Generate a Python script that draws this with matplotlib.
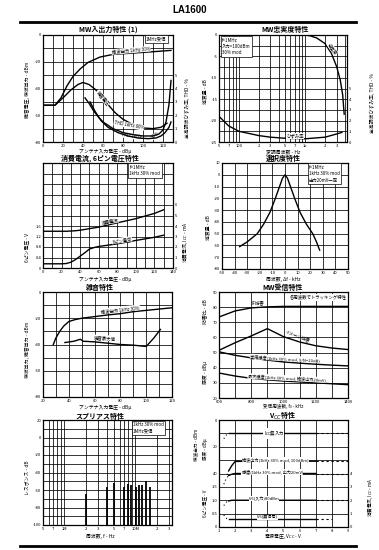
import matplotlib
matplotlib.use("Agg")
import matplotlib.pyplot as plt
from matplotlib.lines import Line2D
from matplotlib.ticker import NullLocator

plt.rcParams['font.family'] = ['Noto Sans CJK JP', 'DejaVu Sans']
plt.rcParams['axes.unicode_minus'] = False

# ---------------- data ----------------
# Panel 1: MW input/output (1)
p1_det_x = [0, 12, 18, 24, 30, 37, 45, 57, 70, 90, 110, 128]
p1_det_y = [-52.5, -52.5, -47, -38, -31, -25.5, -20.5, -16.5, -14.5, -13.5, -12.5, -11.5]
p1_noise_x = [0, 12, 20, 28, 35, 40, 46, 52, 58, 65, 72, 80, 90, 100, 110, 118, 124]
p1_noise_y = [-52.5, -52.5, -47, -41, -37, -35.5, -37, -40.5, -45, -52, -58, -63, -67, -69.5, -70, -69, -66]
p1_thd80_x = [42, 46, 50, 55, 60, 70, 80, 90, 100, 110, 116, 120, 123, 126, 128]
p1_thd80 = [3.3, 2.9, 2.4, 1.9, 1.5, 1.0, 0.7, 0.55, 0.45, 0.45, 0.6, 0.9, 1.5, 2.8, 4.6]
p1_thd30_x = [47, 52, 58, 65, 75, 85, 95, 105, 113, 118, 122, 126, 128]
p1_thd30 = [3.0, 2.3, 1.6, 1.1, 0.7, 0.45, 0.3, 0.25, 0.3, 0.45, 0.7, 1.1, 1.5]

# Panel 2: MW fidelity
p2_fid_f = [1000, 1200, 1500, 2000, 2500, 3000, 3400, 3700, 3900]
p2_fid_db = [0, -0.2, -0.7, -2.0, -4.3, -7.4, -10.5, -14, -18.5]
p2_thd_f = [50, 70, 100, 200, 300, 500, 1000, 2000, 3000, 3600]
p2_thd = [2.4, 1.5, 1.0, 0.6, 0.45, 0.35, 0.3, 0.45, 0.75, 0.9]

# Panel 3: supply current, pin-6 voltage
p3_in = [0, 20, 25, 30, 35, 40, 45, 50, 55, 60, 80, 100, 120, 130]
p3_icc = [3.5, 3.5, 3.5, 3.52, 3.55, 3.6, 3.67, 3.75, 3.82, 3.9, 4.3, 4.7, 5.2, 5.55]
p3_v6 = [0.16, 0.16, 0.17, 0.22, 0.32, 0.45, 0.58, 0.72, 0.78, 0.82, 0.92, 1.05, 1.17, 1.25]

# Panel 4: selectivity
p4_df = [-36, -30, -22, -17, -12, -8, -5, -2, 0, 2, 5, 8, 12, 17, 22, 25, 27.5]
p4_att = [-61, -57, -50, -42, -32, -21, -12, -3, 0, -3, -12, -21, -32, -42, -50, -57, -64]

# Panel 5: noise characteristics
p5_det_x = [28, 30, 33, 36, 40, 45, 50, 60, 70, 80, 90, 100, 110, 120]
p5_det_y = [-40, -35, -30, -26, -22.5, -21, -20, -18.75, -17.5, -16.5, -15, -14, -13, -12]
p5_noise_x = [37, 44, 49, 51, 60, 70, 80, 90, 100, 106, 111]
p5_noise_y = [-38.5, -37.5, -36, -37.5, -38, -39, -40, -40.5, -41.5, -35, -28.5]

# Panel 6: MW reception
p6_freq = [600, 700, 800, 900, 1000, 1100, 1200, 1300, 1400]
p6_if = [73.5, 77.5, 79.5, 80.2, 80.5, 80.5, 80.5, 80.5, 80.5]
p6_image = [51.5, 56.5, 61, 65.8, 60.5, 57, 54.5, 53, 52]
p6_usable = [50.5, 48.2, 46.5, 45, 43.8, 43, 42.3, 41.7, 41.2]
p6_max = [36.5, 34.5, 33, 32, 31.2, 30.6, 30, 29.4, 28.8]

# Panel 7: spurious
p7_freq = [2.0e6, 4.0e6, 5.0e6, 7.0e6, 7.9e6, 8.8e6, 10.3e6, 11.3e6, 12.6e6, 14.4e6, 16.0e6]
p7_level = [-64, -56, -52, -56, -53, -54, -56, -54, -54, -50, -56]

# Panel 8: Vcc characteristics (values in chart grid units)
p8_vcc = [1.3, 1.4, 1.5, 1.6, 1.8, 2.0, 3.0, 4.0, 5.0, 6.0, 7.0, 8.0, 9.0]
p8_icc = [6.6, 6.8, 6.95, 7.0, 7.0, 7.0, 7.0, 7.0, 7.0, 7.0, 7.0, 7.0, 7.0]
p8_det = [None, None, 3.9, 4.2, 4.6, 4.9, 4.92, 4.92, 4.92, 4.92, 4.92, 4.92, 4.92]
p8_sens = [3.2, 3.5, 3.7, 3.85, 3.95, 4.0, 4.0, 4.0, 4.0, 4.0, 4.0, 4.0, 4.0]
p8_v6_80 = [1.6, 1.8, 1.9, 1.95, 2.0, 2.0, 2.0, 2.0, 2.0, 2.0, 2.0, 2.0, 2.0]
p8_v6_0 = [0.9, 0.7, 0.62, 0.6, 0.6, 0.6, 0.6, 0.6, 0.6, 0.6, 0.6, 0.6, None]

# ---------------- figure ----------------
W, H = 379, 550
fig = plt.figure(figsize=(W / 100, H / 100), dpi=100)
fig.patch.set_facecolor('white')

TL = 3.0   # tick label size
CL = 3.2   # curve label size
AL = 3.5   # axis label size
TT = 5.0   # title size


def add_ax(x0, y0, x1, y1):
    return fig.add_axes([x0 / W, 1 - y1 / H, (x1 - x0) / W, (y1 - y0) / H])


def T(x, y, s, size=AL, **kw):
    kw.setdefault('ha', 'center')
    kw.setdefault('va', 'center')
    fig.text(x / W, 1 - y / H, s, fontsize=size, **kw)


def frame(ax, xgrid, xlab, ygrid, ylab, xlim, ylim, logx=False):
    if logx:
        ax.set_xscale('log')
    ax.set_xticks(xgrid)
    ax.set_xticklabels(xlab)
    ax.set_yticks(ygrid)
    ax.set_yticklabels(ylab)
    ax.xaxis.set_minor_locator(NullLocator())
    ax.yaxis.set_minor_locator(NullLocator())
    ax.set_xlim(*xlim)
    ax.set_ylim(*ylim)
    ax.grid(True, color='black', lw=0.55)
    ax.set_axisbelow(True)
    ax.tick_params(length=0, labelsize=TL, pad=1.2)
    for s in ax.spines.values():
        s.set_linewidth(0.9)


def right_axis(ax, ylim, ticks, labels):
    r = ax.twinx()
    r.set_ylim(*ylim)
    r.set_yticks(ticks)
    r.set_yticklabels(labels)
    r.yaxis.set_minor_locator(NullLocator())
    r.tick_params(length=0, labelsize=TL, pad=1.2)
    for s in r.spines.values():
        s.set_visible(False)
    return r


def lab(ax, x, y, s, rot=0, size=CL, bg=True, **kw):
    kw.setdefault('ha', 'center')
    kw.setdefault('va', 'center')
    bb = dict(fc='white', ec='none', pad=0.2) if bg else None
    ax.text(x, y, s, rotation=rot, fontsize=size, bbox=bb, zorder=6, **kw)


def box(ax, x, y, s, size=CL, ha='left'):
    ax.text(x, y, s, fontsize=size, ha=ha, va='top', linespacing=1.35, zorder=6,
            bbox=dict(fc='white', ec='black', lw=0.5, pad=1.0))


LW = 1.0

# page header / footer
T(190, 10, 'LA1600', size=7, fontweight='bold', family=['Liberation Sans', 'DejaVu Sans'])
fig.add_artist(Line2D([20 / W, 356 / W], [1 - 22 / H, 1 - 22 / H], color='black', lw=2.0))
fig.add_artist(Line2D([20 / W, 356 / W], [1 - 546 / H, 1 - 546 / H], color='black', lw=2.0))

# ---------- Panel 1 ----------
ax = add_ax(43, 35, 173, 142)
g = list(range(0, 131, 10))
frame(ax, g, [str(v) if v % 20 == 0 and v <= 120 else '' for v in g],
      list(range(-80, 1, 10)), [str(v) if v % 20 == 0 else '' for v in range(-80, 1, 10)],
      (0, 130), (-80, 0))
ax.plot(p1_det_x, p1_det_y, color='black', lw=LW)
ax.plot(p1_noise_x, p1_noise_y, color='black', lw=LW)
r = right_axis(ax, (0, 8), [0, 1, 2, 3, 4, 5], ['0', '1', '2', '3', '4', '5'])
r.plot(p1_thd80_x, p1_thd80, color='black', lw=LW)
r.plot(p1_thd30_x, p1_thd30, color='black', lw=LW)
lab(ax, 88, -11.5, '検波出力 1kHz 30%', rot=5)
lab(ax, 60, -47, '雑音電圧', rot=-50)
lab(ax, 86, -67.5, 'THD 1kHz 80%', rot=-10)
lab(ax, 88, -75.5, 'THD 1kHz', rot=-8)
lab(ax, 113, -75, '30%', rot=35)
box(ax, 103, -1.2, '1MHz受信')
T(108, 29, 'MW入出力特性 (1)', size=TT, fontweight='bold')
T(27, 90, '雑音電圧, 検波出力 - dBm', rotation=90)
T(187, 108, '全高調波ひずみ率, THD - %', rotation=90)
T(105, 151.5, 'アンテナ入力電圧 - dBμ')

# ---------- Panel 2 ----------
ax = add_ax(219, 35, 347, 142)
g2 = [50, 60, 70, 80, 90, 100, 200, 300, 400, 500, 600, 700, 800, 900, 1000, 2000, 3000, 4000]
g2lab = {50: '5', 70: '7', 100: '100', 200: '2', 300: '3', 500: '5', 700: '7',
         1000: '1k', 2000: '2', 3000: '3'}
frame(ax, g2, [g2lab.get(v, '') for v in g2],
      [-25, -22.5, -20, -17.5, -15, -12.5, -10, -7.5, -5, -2.5, 0],
      ['-25', '', '-20', '', '-15', '', '-10', '', '-5', '', '0'],
      (50, 4300), (-25, 0), logx=True)
ax.plot(p2_fid_f, p2_fid_db, color='black', lw=LW)
r = right_axis(ax, (0, 10), [0, 1, 2, 3, 4, 5], ['0', '1', '2', '3', '4', '5'])
r.plot(p2_thd_f, p2_thd, color='black', lw=LW)
lab(r, 700, 0.55, 'ひずみ率')
lab(ax, 2600, -3.2, '忠実度', rot=-55)
box(ax, 56, -0.6, 'f=1MHz\n入力=100dBm\n30% mod')
T(285, 29, 'MW忠実度特性', size=TT, fontweight='bold')
T(205, 92, '減衰量 - dB', rotation=90)
T(372, 103, '全高調波ひずみ率, THD - %', rotation=90)
T(283, 151.5, '変調周波数 - Hz')

# ---------- Panel 3 ----------
ax = add_ax(43, 163, 173, 268)
g3 = list(range(0, 141, 10))
y3 = [round(0.4 * i, 1) for i in range(11)]
frame(ax, g3, [str(v) if v % 20 == 0 else '' for v in g3],
      y3, ['0', '0.4', '0.8', '1.2', '1.6', '', '', '', '', '', ''],
      (0, 140), (0, 4))
ax.plot(p3_in, p3_v6, color='black', lw=LW)
r = right_axis(ax, (0, 10), [0, 1, 2, 3, 4, 5, 6], ['0', '1', '2', '3', '4', '5', '6'])
r.plot(p3_in, p3_icc, color='black', lw=LW)
lab(r, 72, 4.45, '消費電流', rot=10)
lab(ax, 85, 1.06, '6ピン電圧', rot=8)
box(ax, 93, 3.93, 'f=1MHz\n1kHz 30% mod')
T(100, 158.5, '消費電流, 6ピン電圧特性', size=TT, fontweight='bold')
T(27, 247, '6ピン電圧 - V', rotation=90)
T(186, 242, '消費電流, I$_{CC}$ - mA', rotation=90)
T(105, 279, 'アンテナ入力電圧 - dBμ')

# ---------- Panel 4 ----------
ax = add_ax(222, 163, 348, 269)
g4 = list(range(-50, 51, 10))
y4 = list(range(-80, 11, 10))
frame(ax, g4, [str(v) for v in g4], y4, [str(v) for v in y4], (-50, 50), (-80, 10))
ax.plot(p4_df, p4_att, color='black', lw=LW)
box(ax, 19, 8.5, 'f=1MHz\n1kHz 30% mod\n出力20mV一定')
T(283, 158.5, '選択度特性', size=TT, fontweight='bold')
T(208, 228, '減衰量 - dB', rotation=90)
T(283, 279, '周波数, Δf - kHz')

# ---------- Panel 5 ----------
ax = add_ax(43, 292, 172, 397)
g5 = list(range(20, 121, 10))
y5 = list(range(-80, 1, 10))
frame(ax, g5, [str(v) if v % 20 == 0 else '' for v in g5],
      y5, [str(v) if v % 20 == 0 else '' for v in y5], (20, 120), (-80, 0))
ax.plot(p5_det_x, p5_det_y, color='black', lw=LW)
ax.plot(p5_noise_x, p5_noise_y, color='black', lw=LW)
lab(ax, 80, -13.2, '検波出力 1kHz 30%', rot=6)
lab(ax, 68, -35, '雑音最大値', rot=-3)
T(100, 287, '雑音特性', size=TT, fontweight='bold')
T(27, 350, '検波出力, 雑音出力 - dBm', rotation=90)
T(105, 408, 'アンテナ入力電圧 - dBμ')

# ---------- Panel 6 ----------
ax = add_ax(219, 292, 348, 398)
g6 = list(range(600, 1401, 100))
y6 = list(range(20, 91, 10))
frame(ax, g6, [str(v) if v % 200 == 0 else '' for v in g6],
      y6, [str(v) for v in y6], (600, 1400), (20, 90))
for s in (p6_if, p6_image, p6_usable, p6_max):
    ax.plot(p6_freq, s, color='black', lw=LW)
lab(ax, 840, 83.2, 'IF妨害', bg=False)
lab(ax, 1085, 61, 'イメージ妨害', rot=-22, bg=False)
lab(ax, 1010, 46.2, '実用感度(1kHz 30% mod, S/N=20dB)', rot=-3, size=3.0)
lab(ax, 1020, 33.2, '最大感度(1kHz 30% mod, 検波出力20mV)', rot=-3, size=3.0)
ax.text(1390, 88, '各周波数でトラッキング特性', fontsize=CL, ha='right', va='top', zorder=6,
        bbox=dict(fc='white', ec='none', pad=0.5))
T(283, 287, 'MW受信特性', size=TT, fontweight='bold')
T(205, 312, '妨害比 - dB', rotation=90)
T(205, 372, '感度 - dBμ', rotation=90)
T(283, 406.5, '受信周波数, f₀ - kHz', size=3.3)

# ---------- Panel 7 ----------
ax = add_ax(43, 420, 172, 525)
g7 = [5e5, 6e5, 7e5, 8e5, 9e5, 1e6, 2e6, 3e6, 4e6, 5e6, 6e6, 7e6, 8e6, 9e6, 1e7, 2e7, 3e7]
g7lab = ['5', '', '7', '', '', '1M', '2', '3', '', '5', '', '7', '', '', '10M', '2', '3']
y7 = list(range(-100, 21, 10))
frame(ax, g7, g7lab, y7, [str(v) if v % 20 == 0 else '' for v in y7],
      (5e5, 3.3e7), (-100, 20), logx=True)
ax.vlines(p7_freq, -100, p7_level, color='black', lw=1.3, zorder=4)
box(ax, 9.3e6, 17.5, '1kHz 30% mod\n1MHz受信')
T(100, 416, 'スプリアス特性', size=TT, fontweight='bold')
T(27, 478, 'レスポンス - dB', rotation=90)
T(100, 536, '周波数, f - Hz')

# ---------- Panel 8 ----------
ax = add_ax(219, 420, 348, 527)
g8 = list(range(1, 10))
y8 = list(range(0, 9))
frame(ax, g8, [str(v) for v in g8], y8,
      ['0', '0.5', '1.0', '1.5', '40', '', '20', '', '0'], (1, 9), (0, 8))
right_axis(ax, (0, 8), [0, 1, 2, 3, 4], ['0', '1', '2', '3', '4'])


def draw_split(ax, xs, ys, lo=1.6, hi=7.0):
    pts = [(x, y) for x, y in zip(xs, ys) if y is not None]
    solid = [(x, y) for x, y in pts if lo <= x <= hi]
    left = [(x, y) for x, y in pts if x <= lo]
    right = [(x, y) for x, y in pts if x >= hi]
    for seg, st in ((solid, '-'), (left, (0, (1, 2.5))), (right, (0, (2, 2.5)))):
        if len(seg) > 1:
            ax.plot([p[0] for p in seg], [p[1] for p in seg], color='black',
                    lw=LW if st == '-' else 0.8, linestyle=st)


for s in (p8_icc, p8_det, p8_sens, p8_v6_80, p8_v6_0):
    draw_split(ax, p8_vcc, s)
lab(ax, 4.4, 7.0, 'I$_{CC}$無入力')
lab(ax, 4.5, 5.05, '検波出力(1kHz 30% mod, 100dBm)', size=3.0)
lab(ax, 4.3, 4.12, '感度(1kHz 30% mod, 出力20mV)', size=3.0)
lab(ax, 3.8, 2.12, 'V6(入力)80dBm', size=3.0)
lab(ax, 4.0, 0.72, 'V6(無信号)', size=3.0)
T(283, 416, 'V$_{CC}$特性', size=TT, fontweight='bold')
T(196, 445, '検波出力 - dBm', rotation=90, size=3.3)
T(205, 449, '感度 - dBμ', rotation=90, size=3.3)
T(205, 503, '6ピン電圧 - V', rotation=90, size=3.3)
T(371, 497, '消費電流, I$_{CC}$ - mA', rotation=90, size=3.3)
T(283, 536, '電源電圧, V$_{CC}$ - V')

fig.savefig('out.png', dpi=100, facecolor='white')
